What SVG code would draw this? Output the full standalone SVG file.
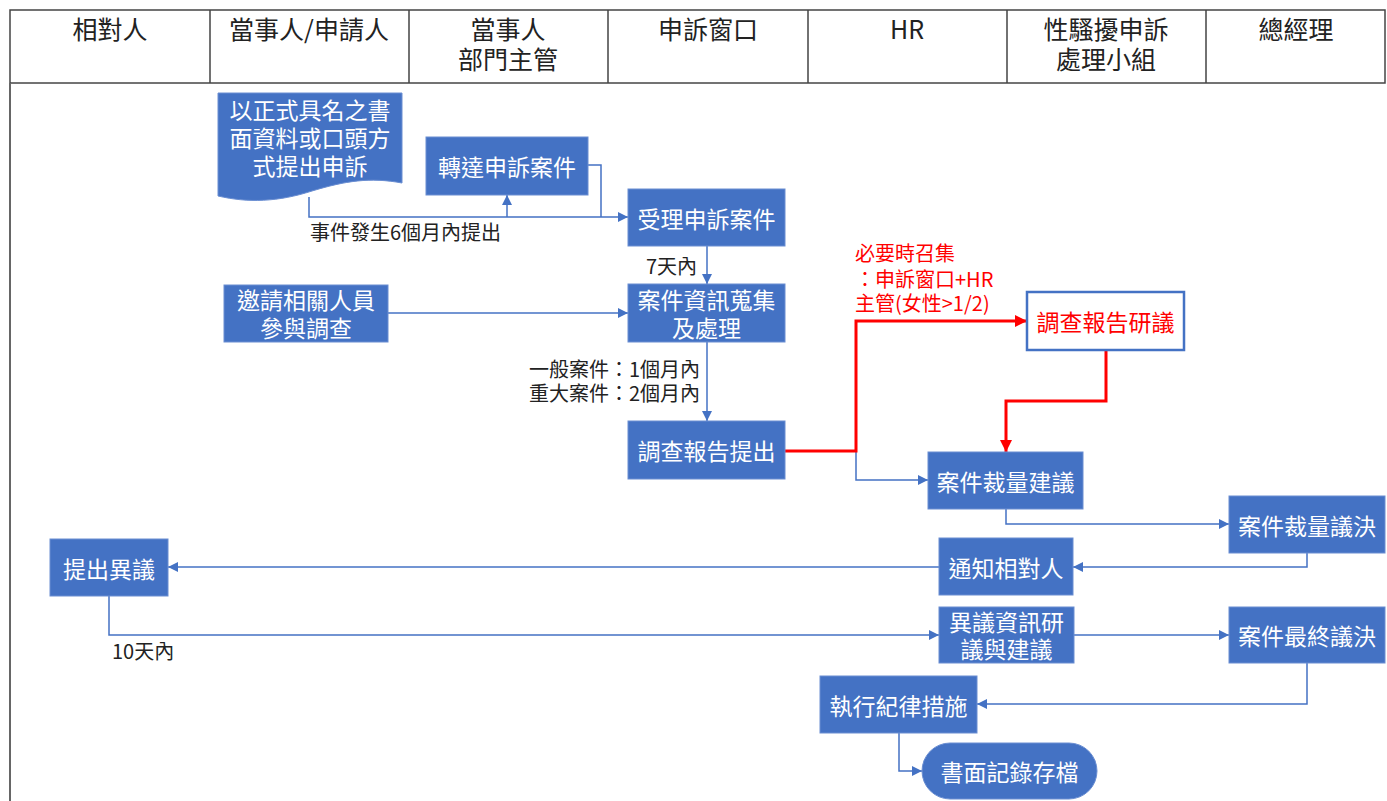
<svg xmlns="http://www.w3.org/2000/svg" width="1387" height="801" viewBox="0 0 1387 801">
<style>
.hd{font-family:"Noto Sans CJK TC","Noto Sans",sans-serif;font-size:25px;fill:#222;text-anchor:middle}
.box{fill:#4472C4;stroke:#6A8ED2;stroke-width:1}
.nt{font-family:"Noto Sans CJK TC","Noto Sans",sans-serif;font-size:23px;fill:#fff;text-anchor:middle;dominant-baseline:central}
.lb{font-family:"Noto Sans CJK TC","Noto Sans",sans-serif;font-size:20px;fill:#222}
.rl{font-family:"Noto Sans CJK TC","Noto Sans",sans-serif;font-size:20px;fill:#FF0000}
.cn{fill:none;stroke:#4472C4;stroke-width:1.5}
.rc{fill:none;stroke:#FF0000;stroke-width:3}
</style>
<defs>
<marker id="ab" viewBox="0 0 10 10" refX="10" refY="5" markerWidth="10" markerHeight="10" markerUnits="userSpaceOnUse" orient="auto"><path d="M0,0 L10,5 L0,10 Z" fill="#4472C4"/></marker>
<marker id="ar" viewBox="0 0 10 10" refX="10" refY="5" markerWidth="12" markerHeight="12" markerUnits="userSpaceOnUse" orient="auto"><path d="M0,0 L10,5 L0,10 Z" fill="#FF0000"/></marker>
</defs>
<rect width="1387" height="801" fill="#fff"/>
<g id="header">
<rect x="10" y="10" width="1375" height="73" fill="#fff" stroke="#444" stroke-width="1.5"/>
<path d="M210,10V83M409,10V83M608,10V83M808,10V83M1007,10V83M1206,10V83" stroke="#444" stroke-width="1.5"/>
<line x1="10" y1="83" x2="10" y2="801" stroke="#666" stroke-width="2"/>
<text class="hd" x="110" y="39">相對人</text>
<text class="hd" x="309" y="39">當事人/申請人</text>
<text class="hd" x="508" y="39">當事人</text>
<text class="hd" x="508" y="69">部門主管</text>
<text class="hd" x="708" y="39">申訴窗口</text>
<text class="hd" x="907" y="39">HR</text>
<text class="hd" x="1106" y="39">性騷擾申訴</text>
<text class="hd" x="1106" y="69">處理小組</text>
<text class="hd" x="1296" y="39">總經理</text>
</g>
<g id="connectors">
<path class="cn" d="M309,197 V217 H628" marker-end="url(#ab)"/>
<path class="cn" d="M507,217 V195" marker-end="url(#ab)"/>
<path class="cn" d="M588,165 H601 V217"/>
<path class="cn" d="M707,246 V284" marker-end="url(#ab)"/>
<path class="cn" d="M388,313 H628" marker-end="url(#ab)"/>
<path class="cn" d="M707,342 V421" marker-end="url(#ab)"/>
<path class="cn" d="M856,451 V480 H928" marker-end="url(#ab)"/>
<path class="rc" d="M785,451 H856 V321 H1027" marker-end="url(#ar)"/>
<path class="rc" d="M1106,350 V401 H1006 V452" marker-end="url(#ar)"/>
<path class="cn" d="M1006,509 V524 H1229" marker-end="url(#ab)"/>
<path class="cn" d="M1307,553 V567 H1073" marker-end="url(#ab)"/>
<path class="cn" d="M939,567 H168" marker-end="url(#ab)"/>
<path class="cn" d="M109,596 V635 H939" marker-end="url(#ab)"/>
<path class="cn" d="M1074,635 H1229" marker-end="url(#ab)"/>
<path class="cn" d="M1307,663 V704 H977" marker-end="url(#ab)"/>
<path class="cn" d="M899,733 V771 H922" marker-end="url(#ab)"/>
<text class="lb" x="310" y="240">事件發生6個月內提出</text>
<text class="lb" x="646" y="274">7天內</text>
<text class="lb" x="700" y="377" text-anchor="end">一般案件：1個月內</text>
<text class="lb" x="700" y="401" text-anchor="end">重大案件：2個月內</text>
<text class="lb" x="112" y="659">10天內</text>
<text class="rl" x="855" y="261">必要時召集</text>
<text class="rl" x="855" y="287">：申訴窗口+HR</text>
<text class="rl" x="855" y="311">主管(女性&gt;1/2)</text>
</g>
<g id="n-doc">
<path class="box" d="M218,93 H402 V183 C370,177 345,181 312,191 C278,202 248,203 218,196 Z"/>
<text class="nt" x="310" y="109">以正式具名之書</text>
<text class="nt" x="310" y="137">面資料或口頭方</text>
<text class="nt" x="310" y="165">式提出申訴</text>
</g>
<g id="n-forward"><rect class="box" x="426" y="137" width="162" height="58"/><text class="nt" x="507" y="166">轉達申訴案件</text></g>
<g id="n-accept"><rect class="box" x="628" y="189" width="157" height="57"/><text class="nt" x="706.5" y="217.5">受理申訴案件</text></g>
<g id="n-invite"><rect class="box" x="224" y="285" width="164" height="57"/><text class="nt" x="306" y="299">邀請相關人員</text><text class="nt" x="306" y="327">參與調查</text></g>
<g id="n-collect"><rect class="box" x="628" y="284" width="157" height="58"/><text class="nt" x="706.5" y="299">案件資訊蒐集</text><text class="nt" x="706.5" y="327">及處理</text></g>
<g id="n-report"><rect class="box" x="628" y="421" width="157" height="58"/><text class="nt" x="706.5" y="450">調查報告提出</text></g>
<g id="n-review"><rect x="1027" y="292" width="157" height="58" fill="#fff" stroke="#4472C4" stroke-width="2.5"/><text class="nt" x="1105.5" y="321" style="fill:#FF0000">調查報告研議</text></g>
<g id="n-suggest"><rect class="box" x="928" y="452" width="155" height="57"/><text class="nt" x="1005.5" y="480.5">案件裁量建議</text></g>
<g id="n-decide"><rect class="box" x="1229" y="496" width="156" height="57"/><text class="nt" x="1307" y="524.5">案件裁量議決</text></g>
<g id="n-notify"><rect class="box" x="939" y="538" width="134" height="57"/><text class="nt" x="1006" y="566.5">通知相對人</text></g>
<g id="n-object"><rect class="box" x="50" y="539" width="118" height="57"/><text class="nt" x="109" y="567.5">提出異議</text></g>
<g id="n-objreview"><rect class="box" x="939" y="607" width="135" height="56"/><text class="nt" x="1006.5" y="621">異議資訊研</text><text class="nt" x="1006.5" y="648">議與建議</text></g>
<g id="n-final"><rect class="box" x="1229" y="607" width="156" height="56"/><text class="nt" x="1307" y="635">案件最終議決</text></g>
<g id="n-execute"><rect class="box" x="820" y="676" width="157" height="57"/><text class="nt" x="898.5" y="704.5">執行紀律措施</text></g>
<g id="n-archive"><rect class="box" x="922" y="743" width="175" height="56" rx="28"/><text class="nt" x="1009.5" y="771">書面記錄存檔</text></g>
</svg>
